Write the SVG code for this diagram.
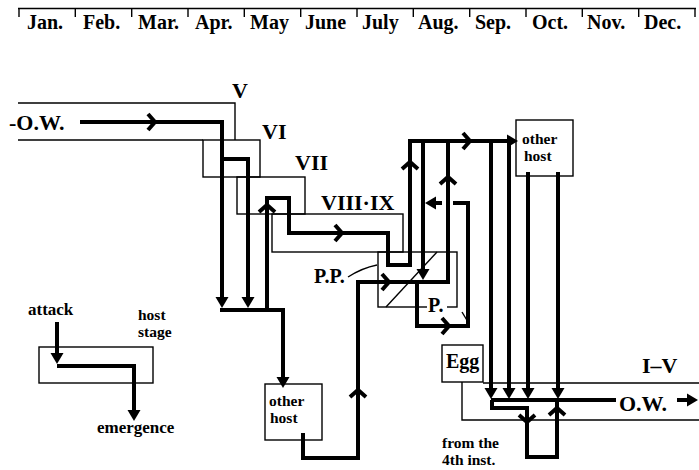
<svg xmlns="http://www.w3.org/2000/svg" xmlns:xlink="http://www.w3.org/1999/xlink" width="699" height="470" viewBox="0 0 699 470">
<style>
  .t { font-family: "Liberation Serif", "Times New Roman", serif; font-weight: bold; fill: #000; }
  .m { font-size: 20px; }
  .n { font-size: 22px; }
  .s { font-size: 17px; }
  .h { font-size: 15.5px; }
  .thin { fill: none; stroke: #000; stroke-width: 1.4; }
  .thick { fill: none; stroke: #000; stroke-width: 4; stroke-linejoin: miter; }
</style>
<defs>
  <path id="chv" d="M-7,-8 L0,0 L-7,8" fill="none" stroke="#000" stroke-width="4"/>
  <path id="hd" d="M-11,-6.5 L0,0 L-11,6.5 Z" fill="#000"/>
</defs>
<rect width="699" height="470" fill="#fff"/>

<g id="header">
  <path class="thin" d="M18,8.5 H696 M19,8.5 V17 M75.3,8.5 V17 M131.7,8.5 V17 M188,8.5 V17 M244.3,8.5 V17 M300.7,8.5 V17 M357,8.5 V17 M413.3,8.5 V17 M469.7,8.5 V17 M526,8.5 V17 M582.3,8.5 V17 M638.7,8.5 V17 M695,8.5 V17"/>
  <text class="t m" x="27" y="29">Jan.</text>
  <text class="t m" x="83" y="29">Feb.</text>
  <text class="t m" x="138" y="29">Mar.</text>
  <text class="t m" x="195" y="29">Apr.</text>
  <text class="t m" x="250" y="29">May</text>
  <text class="t m" x="305" y="29">June</text>
  <text class="t m" x="362" y="29">July</text>
  <text class="t m" x="418" y="29">Aug.</text>
  <text class="t m" x="475" y="29">Sep.</text>
  <text class="t m" x="532" y="29">Oct.</text>
  <text class="t m" x="587" y="29">Nov.</text>
  <text class="t m" x="644" y="29">Dec.</text>
</g>

<g id="stage-V">
  <path class="thin" d="M18,103 H235 V140 M18,140 H203"/>
  <text class="t n" x="232" y="98">V</text>
  <text class="t n" x="9" y="130">-O.W.</text>
</g>
<g id="stage-VI">
  <rect class="thin" x="203" y="140" width="57" height="37"/>
  <text class="t n" x="262" y="139">VI</text>
</g>
<g id="stage-VII">
  <rect class="thin" x="237" y="177" width="68" height="37"/>
  <text class="t n" x="295" y="170">VII</text>
</g>
<g id="stage-VIII-IX">
  <rect class="thin" x="272" y="214" width="131" height="38"/>
  <text class="t n" x="321" y="210">VIII·IX</text>
</g>
<g id="stage-PP">
  <rect class="thin" x="378" y="252" width="79" height="55"/>
  <path class="thin" d="M386,307 L437,252"/>
  <path class="thin" d="M348,277 Q362,268 377,265"/>
  <path class="thin" d="M462,312 L468,322"/>
  <text class="t m" x="314" y="283">P.P.</text>
  <rect x="427" y="300" width="20" height="14" fill="#fff"/>
  <text class="t m" x="428" y="312">P.</text>
</g>
<g id="other-host-1">
  <rect class="thin" x="516" y="120" width="57" height="56"/>
  <text class="t h" x="522" y="144">other</text>
  <text class="t h" x="524" y="161">host</text>
</g>
<g id="other-host-2">
  <rect class="thin" x="265" y="384" width="57" height="56"/>
  <text class="t h" x="269" y="406">other</text>
  <text class="t h" x="270" y="423">host</text>
</g>
<g id="egg">
  <rect class="thin" x="442" y="345" width="41" height="37"/>
  <text class="t m" x="446" y="368">Egg</text>
</g>
<g id="stage-I-V">
  <path class="thin" d="M483,383 H699 M462,382 V420 H699"/>
  <text class="t n" x="642" y="373">I–V</text>
  <rect x="617" y="392" width="58" height="18" fill="#fff"/>
  <text class="t n" x="619" y="411">O.W.</text>
</g>
<g id="from-4th">
  <text class="t h" x="442" y="448">from the</text>
  <text class="t h" x="442" y="465">4th inst.</text>
</g>

<g id="legend">
  <rect class="thin" x="39" y="347" width="114" height="36"/>
  <text class="t s" x="28" y="315">attack</text>
  <text class="t h" x="138" y="320">host</text>
  <text class="t h" x="138" y="337">stage</text>
  <text class="t s" x="97" y="433">emergence</text>
  <path class="thick" d="M57,322 V355"/>
  <use xlink:href="#hd" transform="translate(57,364) rotate(90)"/>
  <path class="thick" d="M57,366 H134 V411"/>
  <use xlink:href="#hd" transform="translate(134,421) rotate(90)"/>
</g>

<g id="connectors">
  <path class="thick" d="M80,122 H222 V298"/>
  <use xlink:href="#chv" transform="translate(155,122)"/>
  <use xlink:href="#hd" transform="translate(222,308) rotate(90)"/>
  <path class="thick" d="M222,159 H248 V298"/>
  <use xlink:href="#hd" transform="translate(248,308) rotate(90)"/>
  <path class="thick" d="M220,310 H283 V378"/>
  <use xlink:href="#hd" transform="translate(283,388) rotate(90)"/>
  <path class="thick" d="M267,310 V198 H289 V233 H388 V265 H410 V141 H508"/>
  <use xlink:href="#chv" transform="translate(267,205) rotate(-90)"/>
  <use xlink:href="#chv" transform="translate(342,233)"/>
  <use xlink:href="#chv" transform="translate(410,162) rotate(-90)"/>
  <use xlink:href="#chv" transform="translate(470,141)"/>
  <use xlink:href="#hd" transform="translate(518,141)"/>
  <path class="thick" d="M303,433 V458 H358 V282 H448 V141"/>
  <use xlink:href="#chv" transform="translate(358,390) rotate(-90)"/>
  <use xlink:href="#chv" transform="translate(389,282)"/>
  <use xlink:href="#chv" transform="translate(448,177) rotate(-90)"/>
  <path class="thick" d="M423,141 V270"/>
  <use xlink:href="#hd" transform="translate(423,280) rotate(90)"/>
  <path class="thick" d="M417,282 V326 H468 V203 H453 M442,203 H434"/>
  <use xlink:href="#chv" transform="translate(449,326)"/>
  <use xlink:href="#hd" transform="translate(425,203) rotate(180)"/>
  <path class="thick" d="M491,141 V390 M509,141 V390 M528,172 V390 M558,172 V390"/>
  <use xlink:href="#hd" transform="translate(491,399) rotate(90)"/>
  <use xlink:href="#hd" transform="translate(509,399) rotate(90)"/>
  <use xlink:href="#hd" transform="translate(528,399) rotate(90)"/>
  <use xlink:href="#hd" transform="translate(558,399) rotate(90)"/>
  <path class="thick" d="M491,400 H616 M677,400 H689"/>
  <use xlink:href="#hd" transform="translate(698,400)"/>
  <path class="thick" d="M492,400 V408 H527 V457 H557 V402"/>
  <use xlink:href="#chv" transform="translate(527,422) rotate(90)"/>
  <use xlink:href="#chv" transform="translate(557,408) rotate(-90)"/>
</g>
</svg>
